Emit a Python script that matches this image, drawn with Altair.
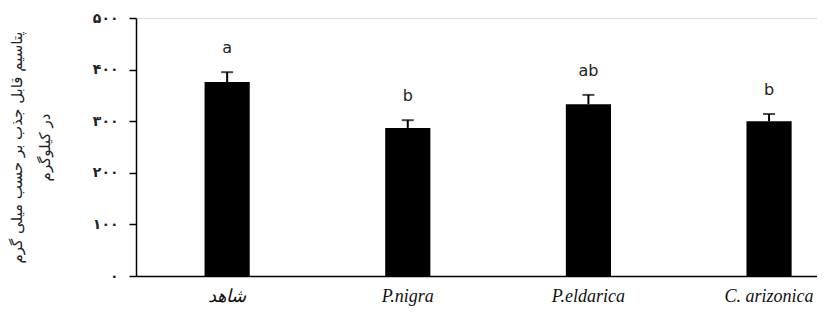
import altair as alt
import pandas as pd

categories = ["شاهد", "P.nigra", "P.eldarica", "C. arizonica"]
means = [376, 287, 333, 300]
errors = [19, 15, 18, 14]
letters = ["a", "b", "ab", "b"]

y_ticks = [0, 100, 200, 300, 400, 500]
y_tick_labels = ["۰", "۱۰۰", "۲۰۰", "۳۰۰", "۴۰۰", "۵۰۰"]
y_title = ["پتاسیم قابل جذب بر حسب میلی گرم", "در کیلوگرم"]

df = pd.DataFrame({
    "cat": categories,
    "mean": means,
    "err": errors,
    "letter": letters,
})
df["top"] = df["mean"] + df["err"]

label_expr = " : ".join(
    f"datum.value == {v} ? '{l}'" for v, l in zip(y_ticks, y_tick_labels)
) + " : ''"

x_enc = alt.X(
    "cat:N",
    sort=categories,
    scale=alt.Scale(paddingInner=0.75, paddingOuter=0.26, align=0.73),
    axis=alt.Axis(
        title=None,
        ticks=False,
        labelAngle=0,
        labelFont="Liberation Serif",
        labelFontStyle="italic",
        labelFontSize=18,
        labelColor="#111",
        labelPadding=11,
        domainColor="black",
        domainWidth=1.5,
    ),
)

y_scale = alt.Scale(domain=[0, 500], nice=False)

bars = alt.Chart(df).mark_bar(color="black").encode(
    x=x_enc,
    y=alt.Y(
        "mean:Q",
        scale=y_scale,
        axis=alt.Axis(
            values=y_ticks,
            labelExpr=label_expr,
            grid=False,
            tickSize=7,
            tickColor="black",
            tickWidth=1.5,
            domainColor="black",
            domainWidth=1.5,
            labelFont="DejaVu Sans",
            labelFontSize=14,
            labelFontWeight="bold",
            labelColor="#222",
            labelPadding=11,
            title=y_title,
            titleFont="DejaVu Sans",
            titleFontSize=15,
            titleFontWeight="normal",
            titleColor="#222",
            titleAngle=270,
            titleAlign="center",
            titleBaseline="top",
            titleLineHeight=28,
            titleX=-127,
            titleY=129,
        ),
    ),
)

whisker = alt.Chart(df).mark_rule(color="black", strokeWidth=2).encode(
    x=alt.X("cat:N", sort=categories),
    y=alt.Y("mean:Q", scale=y_scale),
    y2="top:Q",
)

cap = alt.Chart(df).mark_tick(color="black", orient="horizontal", size=12, thickness=2).encode(
    x=alt.X("cat:N", sort=categories),
    y=alt.Y("top:Q", scale=y_scale),
)

text = alt.Chart(df).mark_text(
    font="DejaVu Sans", fontSize=16, color="#222", dy=-24, baseline="middle"
).encode(
    x=alt.X("cat:N", sort=categories),
    y=alt.Y("top:Q", scale=y_scale),
    text="letter:N",
)

chart = (
    alt.layer(bars, whisker, cap, text)
    .properties(
        width=681,
        height=258,
        autosize=alt.AutoSizeParams(type="none"),
        padding={"left": 128, "top": 10, "right": 0, "bottom": 34},
    )
    .configure_view(stroke=None)
    .configure(background="white")
)

chart.save("out.html", embed_options={"renderer": "svg", "actions": False})
